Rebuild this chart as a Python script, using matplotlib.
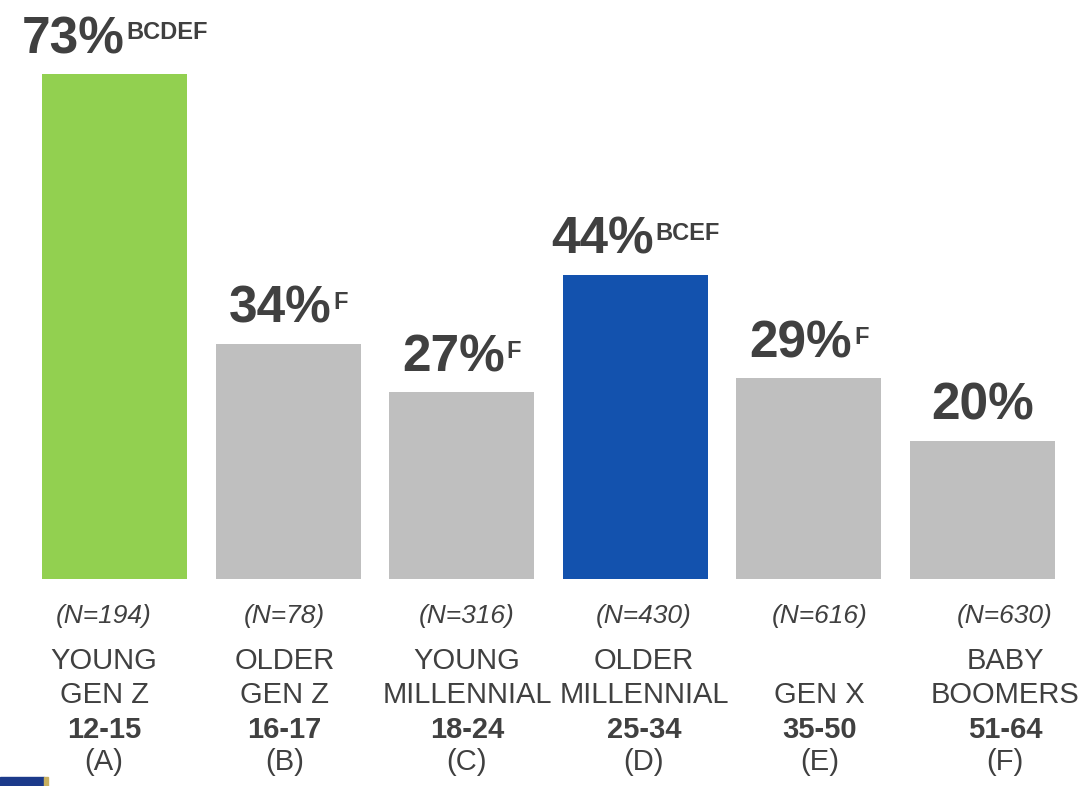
import numpy as np
import matplotlib.pyplot as plt
from matplotlib.patches import Rectangle
from matplotlib.transforms import blended_transform_factory

plt.rcParams['font.family'] = ['Liberation Sans', 'DejaVu Sans']

# data
values = [73, 34, 27, 44, 29, 20]
sig_letters = ["BCDEF", "F", "F", "BCEF", "F", ""]
sample_n = [194, 78, 316, 430, 616, 630]
line1 = ["YOUNG", "OLDER", "YOUNG", "OLDER", "", "BABY"]
line2 = ["GEN Z", "GEN Z", "MILLENNIAL", "MILLENNIAL", "GEN X", "BOOMERS"]
ages = ["12-15", "16-17", "18-24", "25-34", "35-50", "51-64"]
codes = ["(A)", "(B)", "(C)", "(D)", "(E)", "(F)"]
colors = ["#92D050", "#BFBFBF", "#BFBFBF", "#1352AE", "#BFBFBF", "#BFBFBF"]

# label columns sit slightly off the bar centres in the original slide
label_x = [-0.06, 0.98, 2.03, 3.05, 4.06, 5.13]

txt = "#404040"
W, H = 1089, 786
fig = plt.figure(figsize=(W / 100, H / 100), dpi=100)
ax = fig.add_axes([27.7 / W, 1 - 579 / H, 1041.6 / W, 579 / H])

x = np.arange(len(values))
ax.bar(x, values, width=0.835, color=colors)
ax.set_xlim(-0.5, 5.5)
ax.set_ylim(0, 83.7)
ax.axis("off")

# value labels with superscript significance letters, centred as one unit
fig.canvas.draw()
r = fig.canvas.get_renderer()
to_pt = 72 / fig.dpi
for i, (v, s) in enumerate(zip(values, sig_letters)):
    t1 = ax.annotate(f"{v}%", (i, v), xytext=(0, 15), textcoords="offset points",
                     ha="left", va="baseline", fontsize=37, fontweight="bold", color=txt)
    t2 = ax.annotate(s, (i, v), xytext=(0, 25), textcoords="offset points",
                     ha="left", va="baseline", fontsize=17, fontweight="bold", color=txt)
    w1 = t1.get_window_extent(r).width
    w2 = t2.get_window_extent(r).width if s else 0
    gap = 2 if s else 0
    left = -(w1 + gap + w2) / 2
    t1.xyann = (left * to_pt, 15)
    t2.xyann = ((left + w1 + gap) * to_pt, 25)

# category labels below the bars
tr = blended_transform_factory(ax.transData, fig.transFigure)
def fy(py):
    return 1 - py / H

for i in range(len(values)):
    lx = label_x[i]
    ax.text(lx, fy(623), f"(N={sample_n[i]})", transform=tr, ha="center", va="baseline",
            fontsize=19, fontstyle="italic", color=txt)
    ax.text(lx, fy(669), line1[i], transform=tr, ha="center", va="baseline",
            fontsize=21, color=txt)
    ax.text(lx, fy(703), line2[i], transform=tr, ha="center", va="baseline",
            fontsize=21, color=txt)
    ax.text(lx, fy(738), ages[i], transform=tr, ha="center", va="baseline",
            fontsize=21, fontweight="bold", color=txt)
    ax.text(lx, fy(770), codes[i], transform=tr, ha="center", va="baseline",
            fontsize=21, color=txt)

# cut-off logo fragment in the bottom-left corner
fig.patches.append(Rectangle((0, 0), 44 / W, 9 / H, transform=fig.transFigure,
                             color="#1C3A8A", zorder=5))
fig.patches.append(Rectangle((44 / W, 0), 4 / W, 9 / H, transform=fig.transFigure,
                             color="#C8B060", zorder=5))

fig.savefig("out.png", dpi=100)
